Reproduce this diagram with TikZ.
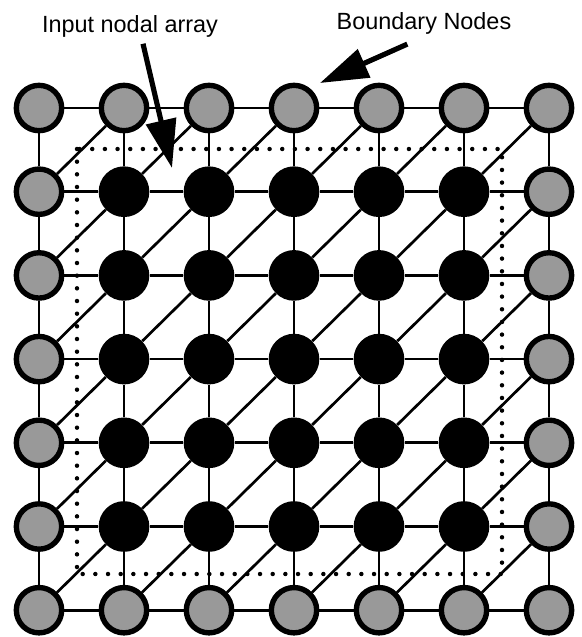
\documentclass[tikz,border=0pt]{standalone}
\usepackage{fontspec}
\setmainfont{Liberation Sans}
\usetikzlibrary{arrows.meta}

\tikzset{
  innernode/.style={circle,fill=black,minimum size=1.52cm,inner sep=0pt},
  bndnode/.style={circle,draw=black,fill=black!40,line width=4.6pt,minimum size=1.36cm,inner sep=0pt},
  link/.style={line width=2.3pt},
  dotbox/.style={line width=3.8pt,line cap=round,dash pattern=on 0pt off 0.38cm},
  bigarrow/.style={line width=4.4pt,-{Triangle[length=1.45cm,width=0.9cm]}},
  lbl/.style={font=\fontsize{20}{22}\selectfont,inner sep=0pt,anchor=base}
}

\begin{document}
\begin{tikzpicture}[x=0.03cm,y=-0.03cm]
\useasboundingbox (0,0) rectangle (582,637);

% nodes: 7x7 array, outer ring is the boundary
\foreach \c in {0,...,6} {
  \foreach \r in {0,...,6} {
    \pgfmathsetmacro\px{39+85*\c}
    \pgfmathsetmacro\py{108+83.7*\r}
    \pgfmathtruncatemacro\isb{(\c==0)||(\c==6)||(\r==0)||(\r==6)}
    \ifnum\isb=1
      \node[bndnode] (n\c\r) at (\px,\py) {};
    \else
      \node[innernode] (n\c\r) at (\px,\py) {};
    \fi
  }
}

% horizontal and vertical links
\foreach \c [evaluate=\c as \d using int(\c+1)] in {0,...,5} {
  \foreach \r in {0,...,6} {
    \draw[link] (n\c\r) -- (n\d\r);
    \draw[link] (n\r\c) -- (n\r\d);
  }
}
% diagonal links
\foreach \c [evaluate=\c as \d using int(\c+1)] in {0,...,5} {
  \foreach \r [evaluate=\r as \s using int(\r-1)] in {1,...,6}
    \draw[link] (n\c\r) -- (n\d\s);
}

% input region
\draw[dotbox] (77,149) rectangle (502,574);

% labels and arrows
\node[lbl] (lblin) at (130,32) {Input nodal array};
\node[lbl] (lblbnd) at (424,29) {Boundary Nodes};
\coordinate (tipin) at (172,168);
\coordinate (tipbnd) at (320,83);
\draw[bigarrow] ([xshift=0.39cm,yshift=-0.2cm]lblin.south) -- (tipin);
\draw[bigarrow] ([xshift=-0.5cm,yshift=-0.3cm]lblbnd.south) -- (tipbnd);
\end{tikzpicture}
\end{document}
